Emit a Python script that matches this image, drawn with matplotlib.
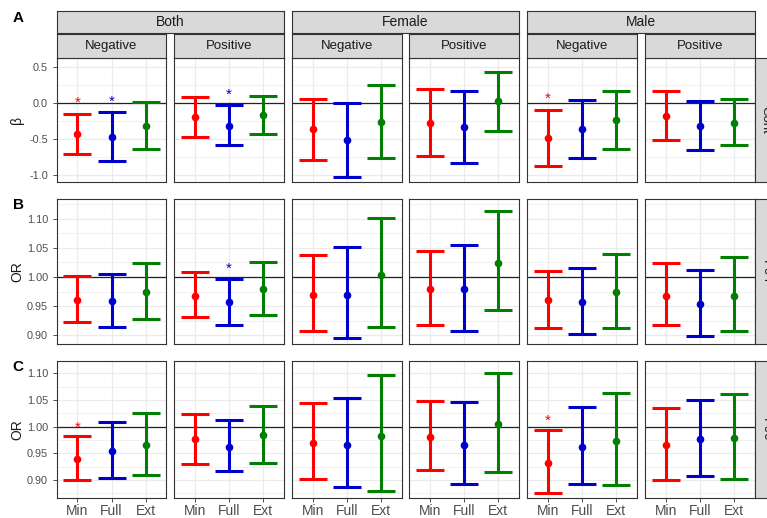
import matplotlib.pyplot as plt
import numpy as np

plt.rcParams['font.family'] = ['Liberation Sans', 'DejaVu Sans']

models = ['Min', 'Full', 'Ext']
sexes = ['Both', 'Female', 'Male']
signs = ['Negative', 'Positive']
outcomes = ['Cont', 'P04', 'P90']
colors = ['#FF0000', '#0000CD', '#007F00']

# panel order: Both-Neg, Both-Pos, Female-Neg, Female-Pos, Male-Neg, Male-Pos
cont_est = [[-0.435, -0.47, -0.32], [-0.20, -0.315, -0.16], [-0.36, -0.51, -0.26],
            [-0.27, -0.333, 0.03], [-0.486, -0.366, -0.236], [-0.176, -0.315, -0.27]]
cont_lo = [[-0.713, -0.81, -0.64], [-0.47, -0.59, -0.425], [-0.79, -1.03, -0.76],
           [-0.74, -0.83, -0.39], [-0.88, -0.77, -0.634], [-0.52, -0.648, -0.59]]
cont_hi = [[-0.148, -0.13, 0.02], [0.088, -0.03, 0.10], [0.06, 0.005, 0.26],
           [0.20, 0.167, 0.44], [-0.09, 0.046, 0.167], [0.176, 0.028, 0.06]]

p04_est = [[0.961, 0.959, 0.974], [0.967, 0.957, 0.979], [0.970, 0.970, 1.003],
           [0.979, 0.979, 1.024], [0.960, 0.957, 0.974], [0.968, 0.953, 0.968]]
p04_lo = [[0.923, 0.915, 0.928], [0.931, 0.918, 0.935], [0.907, 0.896, 0.914],
          [0.918, 0.907, 0.943], [0.912, 0.902, 0.913], [0.917, 0.898, 0.907]]
p04_hi = [[1.002, 1.006, 1.024], [1.008, 0.997, 1.025], [1.037, 1.051, 1.102],
          [1.044, 1.055, 1.113], [1.011, 1.015, 1.040], [1.024, 1.0115, 1.034]]

p90_est = [[0.940, 0.954, 0.965], [0.976, 0.9625, 0.984], [0.969, 0.966, 0.9825],
           [0.980, 0.966, 1.004], [0.9325, 0.9625, 0.973], [0.965, 0.976, 0.978]]
p90_lo = [[0.899, 0.904, 0.909], [0.930, 0.916, 0.9325], [0.902, 0.887, 0.880],
          [0.918, 0.892, 0.915], [0.875, 0.893, 0.890], [0.900, 0.908, 0.901]]
p90_hi = [[0.9825, 1.008, 1.026], [1.024, 1.012, 1.039], [1.044, 1.054, 1.0975],
          [1.0475, 1.046, 1.101], [0.994, 1.037, 1.063], [1.034, 1.049, 1.062]]

# significance stars: (panel, model)
cont_stars = [(0, 0), (0, 1), (1, 1), (4, 0)]
p04_stars = [(1, 1)]
p90_stars = [(0, 0), (4, 0)]

rows = [
    dict(est=cont_est, lo=cont_lo, hi=cont_hi, stars=cont_stars, ref=0.0,
         ylim=(-1.1, 0.63), ticks=[-1.0, -0.5, 0.0, 0.5], fmt='{:.1f}',
         minor=[-0.75, -0.25, 0.25], star_off=0.15, ylabel='β', tag='A'),
    dict(est=p04_est, lo=p04_lo, hi=p04_hi, stars=p04_stars, ref=1.0,
         ylim=(0.885, 1.134), ticks=[0.90, 0.95, 1.00, 1.05, 1.10], fmt='{:.2f}',
         minor=[0.925, 0.975, 1.025, 1.075, 1.125], star_off=0.017, ylabel='OR', tag='B'),
    dict(est=p90_est, lo=p90_lo, hi=p90_hi, stars=p90_stars, ref=1.0,
         ylim=(0.866, 1.123), ticks=[0.90, 0.95, 1.00, 1.05, 1.10], fmt='{:.2f}',
         minor=[0.875, 0.925, 0.975, 1.025, 1.075], star_off=0.016, ylabel='OR', tag='C'),
]

W, H = 767, 518
fig = plt.figure(figsize=(W / 100, H / 100), dpi=100)


def px_ax(x0, y0, x1, y1):
    return fig.add_axes([x0 / W, 1 - y1 / H, (x1 - x0) / W, (y1 - y0) / H])


col_x = [(57, 166), (174, 284), (292, 402), (409, 519), (527, 637), (645, 755)]
row_y = [(58, 182), (199, 344), (361, 498)]
border = '#333333'
strip_bg = '#D9D9D9'


def strip(x0, y0, x1, y1, label, rot=0, size=10):
    s = px_ax(x0, y0, x1, y1)
    s.set_facecolor(strip_bg)
    s.set_xticks([])
    s.set_yticks([])
    for sp in s.spines.values():
        sp.set_color(border)
        sp.set_linewidth(0.8)
    s.text(0.5, 0.5, label, transform=s.transAxes, ha='center', va='center',
           rotation=rot, fontsize=size, color='#1A1A1A')
    return s


xs = np.arange(1, 4)
for r, row in enumerate(rows):
    y0, y1 = row_y[r]
    for p in range(6):
        x0, x1 = col_x[p]
        ax = px_ax(x0, y0, x1, y1)
        ax.set_xlim(0.4, 3.6)
        ax.set_ylim(*row['ylim'])
        ax.set_yticks(row['ticks'])
        ax.set_yticks(row['minor'], minor=True)
        ax.set_xticks(xs)
        ax.grid(True, which='major', color='#EBEBEB', lw=0.9)
        ax.grid(True, which='minor', axis='y', color='#EBEBEB', lw=0.5)
        ax.set_axisbelow(True)
        ax.axhline(row['ref'], color='#222222', lw=0.9, zorder=1)
        est = np.array(row['est'][p])
        lo = np.array(row['lo'][p])
        hi = np.array(row['hi'][p])
        for m in range(3):
            ax.errorbar(xs[m], est[m], yerr=[[est[m] - lo[m]], [hi[m] - est[m]]],
                        fmt='o', color=colors[m], ms=4.5, elinewidth=2.2,
                        capsize=10, capthick=2.2, zorder=3)
        for (sp_i, m) in row['stars']:
            if sp_i == p:
                ax.text(xs[m], hi[m] + row['star_off'], '*', color=colors[m],
                        ha='center', va='center', fontsize=11)
        for sp in ax.spines.values():
            sp.set_color(border)
            sp.set_linewidth(0.8)
        ax.tick_params(which='minor', length=0)
        ax.tick_params(which='major', color=border, length=3, width=0.6)
        if p == 0:
            ax.set_yticklabels([row['fmt'].format(t) for t in row['ticks']],
                               fontsize=7.8, color='#4D4D4D')
        else:
            ax.tick_params(axis='y', which='major', length=0, labelleft=False)
        if r == 2:
            ax.set_xticklabels(models, fontsize=10, color='#4D4D4D')
            ax.tick_params(axis='x', pad=1.5)
        else:
            ax.tick_params(axis='x', which='major', length=0, labelbottom=False)
        if r == 0:
            strip(x0, 34, x1, 58, signs[p % 2], size=9.5)
    # right strip, partly cut by the figure edge
    strip(755, y0, 776, y1, outcomes[r], rot=-90, size=9.5)
    fig.text(17 / W, 1 - ((y0 + y1) / 2) / H, row['ylabel'], rotation=90,
             ha='center', va='center', fontsize=10, color='#1A1A1A')
    fig.text(18 / W, 1 - (y0 - 40 if r == 0 else y0 + 6) / H, row['tag'],
             ha='center', va='center', fontsize=11, fontweight='bold')

for g in range(3):
    strip(col_x[2 * g][0], 11, col_x[2 * g + 1][1], 33, sexes[g], size=10)

fig.savefig('out.png', dpi=100)
